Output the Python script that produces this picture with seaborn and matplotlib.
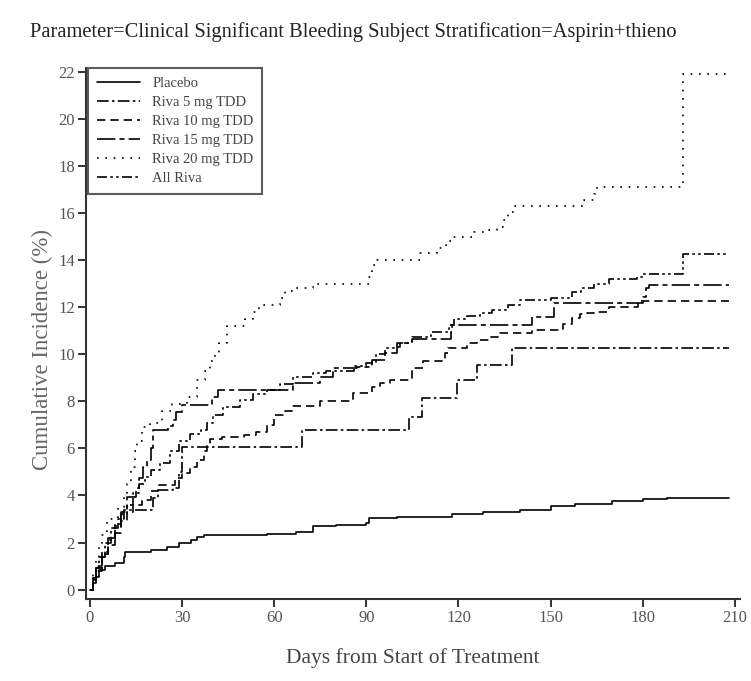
import matplotlib
matplotlib.use("Agg")
import matplotlib.pyplot as plt
import seaborn as sns
import pandas as pd

# ---- data (day, cumulative incidence %) ----
placebo_days = [0, 1, 2, 3, 5, 8, 11, 11.5, 20, 25, 29, 33, 35, 37, 57.7, 67, 72.6, 80, 90, 91, 100, 118, 128, 140, 150, 158, 170, 180, 188, 208]
placebo_vals = [0, 0.3, 0.55, 0.85, 1.0, 1.15, 1.4, 1.6, 1.7, 1.8, 2.0, 2.1, 2.25, 2.3, 2.35, 2.45, 2.7, 2.75, 2.85, 3.05, 3.1, 3.2, 3.3, 3.4, 3.55, 3.65, 3.75, 3.85, 3.9, 3.9]

riva5_days = [0, 1, 2, 3, 5, 7, 9, 11, 19.5, 20.5, 22, 27, 29, 30, 68.5, 69, 103, 104, 108, 119.5, 126, 137.5, 208]
riva5_vals = [0, 0.4, 0.9, 1.4, 2.0, 2.6, 3.0, 3.4, 3.4, 3.9, 4.25, 4.3, 5.0, 6.05, 6.05, 6.8, 6.8, 7.35, 8.15, 8.9, 9.55, 10.25, 10.25]

riva10_days = [0, 1, 2, 4, 6, 8, 10, 12, 14, 17, 20, 22, 27.7, 30, 32.6, 35, 37, 38, 39, 43, 50, 54, 57.6, 60, 63, 65.7, 75, 85.7, 92, 94.5, 97.7, 105, 108.5, 115.6, 116.6, 122.8, 126, 130, 133.5, 144, 154, 157, 159.6, 162, 165, 169, 178.5, 208]
riva10_vals = [0, 0.4, 0.8, 1.4, 1.9, 2.4, 2.9, 3.3, 3.6, 3.8, 4.2, 4.45, 4.75, 4.95, 5.2, 5.5, 5.9, 6.2, 6.4, 6.5, 6.55, 6.7, 7.0, 7.4, 7.6, 7.8, 8.0, 8.35, 8.6, 8.8, 8.9, 9.4, 9.7, 10.05, 10.25, 10.5, 10.6, 10.75, 10.9, 11.05, 11.3, 11.55, 11.7, 11.75, 11.8, 12.0, 12.25, 12.25]

riva15_days = [0, 1, 2, 4, 6, 8, 10, 12, 15, 16, 17.4, 18.5, 20, 20.5, 25.4, 27, 28, 30, 39.7, 41.8, 66, 75, 79, 87, 92, 96, 100, 101, 105, 117.5, 118, 144, 151, 178.5, 180, 181, 182, 208]
riva15_vals = [0, 0.5, 1.0, 1.6, 2.2, 2.8, 3.3, 3.95, 4.3, 4.75, 5.2, 5.5, 6.0, 6.8, 6.95, 7.2, 7.55, 7.85, 8.2, 8.5, 8.8, 9.05, 9.4, 9.45, 9.75, 10.05, 10.3, 10.5, 10.65, 10.95, 11.25, 11.6, 12.2, 12.2, 12.45, 12.8, 12.95, 12.95]

riva20_days = [0, 1, 2, 3, 4, 5.5, 9, 11, 12, 13.5, 14.7, 15.3, 17, 19.5, 23.4, 26.7, 31.5, 35, 37.5, 39, 40.7, 42, 44.6, 50.5, 53, 55, 62, 63.5, 66, 72.6, 91, 92, 93.5, 107.5, 113, 116, 118, 125, 129, 132.5, 134.6, 136, 138, 161, 164, 165, 193, 209]
riva20_vals = [0, 0.6, 1.2, 1.8, 2.3, 3.0, 3.5, 4.0, 4.5, 5.2, 5.9, 6.3, 6.9, 7.1, 7.6, 7.9, 8.2, 8.9, 9.3, 9.7, 10.0, 10.5, 11.2, 11.5, 11.8, 12.1, 12.4, 12.7, 12.8, 13.0, 13.3, 13.8, 14.0, 14.3, 14.5, 14.8, 15.0, 15.2, 15.3, 15.4, 15.7, 16.05, 16.3, 16.55, 16.8, 17.1, 21.9, 21.9]

allriva_days = [0, 1, 2, 4, 6, 8, 10, 12, 14, 16, 18, 20, 22.8, 26, 29, 32.6, 36, 38, 40, 43.4, 49, 53, 57.6, 62, 66, 72.6, 77, 86, 90, 93, 96, 100, 105, 111, 117, 118.5, 122.8, 127, 131, 136, 140, 150, 157, 160, 164, 169, 178, 180, 193, 208]
allriva_vals = [0, 0.5, 0.9, 1.5, 2.1, 2.7, 3.2, 3.6, 4.1, 4.5, 4.8, 5.1, 5.4, 5.9, 6.3, 6.6, 6.8, 7.1, 7.4, 7.75, 8.05, 8.3, 8.5, 8.75, 9.05, 9.2, 9.3, 9.5, 9.65, 10.0, 10.25, 10.5, 10.75, 10.95, 11.25, 11.5, 11.65, 11.75, 11.9, 12.1, 12.3, 12.4, 12.65, 12.8, 13.0, 13.2, 13.3, 13.4, 14.25, 14.25]

labels = ["Placebo", "Riva 5 mg TDD", "Riva 10 mg TDD", "Riva 15 mg TDD", "Riva 20 mg TDD", "All Riva"]
x_ticks = [0, 30, 60, 90, 120, 150, 180, 210]
y_ticks = [0, 2, 4, 6, 8, 10, 12, 14, 16, 18, 20, 22]

series = [
    (placebo_days, placebo_vals),
    (riva5_days, riva5_vals),
    (riva10_days, riva10_vals),
    (riva15_days, riva15_vals),
    (riva20_days, riva20_vals),
    (allriva_days, allriva_vals),
]
styles = [
    "-",
    (0, (7, 2, 1.5, 2)),
    (0, (5, 3)),
    (0, (11, 2.5, 3, 2.5)),
    (0, (1, 4)),
    (0, (6, 2, 1.5, 2, 1.5, 2)),
]

sns.set_style("ticks")
plt.rcParams["font.family"] = ["Liberation Serif", "DejaVu Serif"]

fig = plt.figure(figsize=(7.51, 6.81), dpi=100)
ax = fig.add_axes([86 / 751, 82 / 681, 654 / 751, 531 / 681])

for (d, v), lab, ls in zip(series, labels, styles):
    df = pd.DataFrame({"Day": d, "Incidence": v})
    sns.lineplot(data=df, x="Day", y="Incidence", ax=ax, color="black",
                 linestyle=ls, linewidth=1.2, drawstyle="steps-post",
                 label=lab, estimator=None, sort=True)

ax.set_xlim(-1.3, 211.7)
ax.set_ylim(-0.4, 22.17)
ax.set_xticks(x_ticks)
ax.set_yticks(y_ticks)
ax.tick_params(axis="both", direction="out", length=6, width=1.4, color="#333333",
               labelsize=12, labelcolor="#555555")
ax.tick_params(axis="x", pad=2)
ax.tick_params(axis="y", pad=2)
for s in ["left", "bottom"]:
    ax.spines[s].set_linewidth(1.5)
    ax.spines[s].set_color("#333333")
for s in ["top", "right"]:
    ax.spines[s].set_visible(False)

ax.set_xlabel("Days from Start of Treatment", fontsize=15.5, color="#444444", labelpad=16)
ax.set_ylabel("Cumulative Incidence (%)", fontsize=16.5, color="#666666", labelpad=4)
ax.yaxis.set_label_coords(-0.05, 0.47)

leg = ax.legend(loc="upper left", bbox_to_anchor=(0.003, 1.0), fontsize=10.5,
                frameon=True, fancybox=False, handlelength=3.0, labelspacing=0.4,
                borderpad=0.6, handletextpad=0.8, borderaxespad=0.0)
leg.get_frame().set_edgecolor("#333333")
leg.get_frame().set_linewidth(1.5)
for t in leg.get_texts():
    t.set_color("#444444")

fig.text(30 / 751, 1 - 32 / 681,
         "Parameter=Clinical Significant Bleeding Subject Stratification=Aspirin+thieno",
         fontsize=14.8, color="#222222", ha="left", va="center")

fig.savefig("out.png", dpi=100)
